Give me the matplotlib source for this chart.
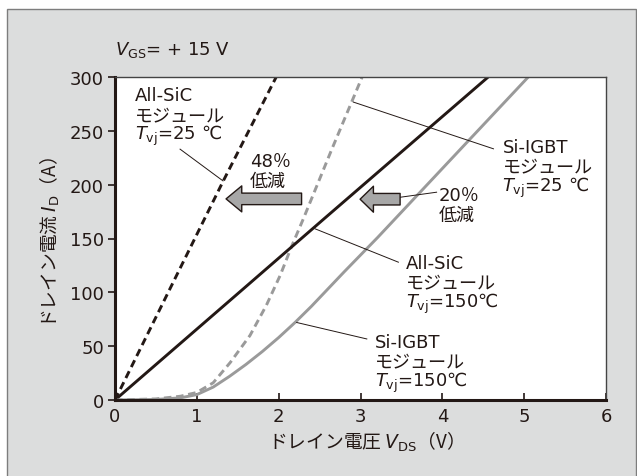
import matplotlib
matplotlib.use('Agg')
import matplotlib.pyplot as plt
from matplotlib.patches import Rectangle

plt.rcParams['font.family'] = ['DejaVu Sans', 'Noto Sans CJK JP']
plt.rcParams['mathtext.fontset'] = 'custom'
plt.rcParams['mathtext.it'] = 'DejaVu Sans:italic'
plt.rcParams['mathtext.rm'] = 'DejaVu Sans'

# drain current I_D (A) vs drain voltage V_DS (V)
sic25_v = [0.0, 1.32, 1.97]
sic25_i = [0.0, 203, 300]
sic150_v = [0.0, 0.79, 1.61, 2.55, 4.56]
sic150_i = [0.0, 52, 106, 168, 300]
si25_v = [0.0, 0.5, 0.8, 1.0, 1.2, 1.41, 1.65, 1.85, 2.02, 2.16, 2.30, 2.65, 3.02]
si25_i = [0.0, 1, 3.5, 7, 16, 35, 60, 88, 116, 143, 168, 233, 300]
si150_v = [0.0, 0.5, 0.8, 1.0, 1.2, 1.4, 1.6, 1.8, 2.0, 2.2, 2.4, 2.6, 2.8, 3.21, 4.0, 5.05]
si150_i = [0.0, 0.5, 2, 5, 12, 22, 33, 45, 58, 72, 87, 103, 119, 151, 215, 300]

x_ticks = [0, 1, 2, 3, 4, 5, 6]
y_ticks = [0, 50, 100, 150, 200, 250, 300]

black = '#231815'
gray = '#9a9a9a'
bg = '#dcdddd'
jp = ['Noto Sans CJK JP']

fig = plt.figure(figsize=(6.37, 4.77), dpi=100)
fig.patches.append(Rectangle((7 / 637, -0.02), 629 / 637, 1.02 - 10 / 477,
                             transform=fig.transFigure, facecolor=bg,
                             edgecolor='#7d7d7d', lw=1.0, zorder=-5))

ax = fig.add_axes([115 / 637, 76 / 477, 491 / 637, 323 / 477])
ax.set_facecolor('white')

ax.plot(sic25_v, sic25_i, color=black, lw=2.1, dashes=(2.6, 1.6))
ax.plot(si25_v, si25_i, color=gray, lw=2.1, dashes=(2.6, 1.6))
ax.plot(sic150_v, sic150_i, color=black, lw=2.1)
ax.plot(si150_v, si150_i, color=gray, lw=2.1)

ax.set_xlim(0, 6)
ax.set_ylim(0, 300)
ax.set_xticks(x_ticks)
ax.set_yticks(y_ticks)
ax.tick_params(axis='x', direction='in', length=5, width=1.2, colors=black,
               labelsize=13, pad=5)
ax.tick_params(axis='y', direction='out', length=5, width=1.2, colors=black,
               labelsize=13, pad=3)
for s in ['left', 'bottom']:
    ax.spines[s].set_linewidth(2.2)
    ax.spines[s].set_color(black)
for s in ['top', 'right']:
    ax.spines[s].set_linewidth(1.0)
    ax.spines[s].set_color('#444444')

fig.text(361 / 637, 1 - 442 / 477, 'ドレイン電圧 $V_{\\mathrm{DS}}$（V）', family=jp,
         ha='center', va='center', fontsize=13.5, color=black)
fig.text(50 / 637, 1 - 243 / 477, 'ドレイン電流 $I_{\\mathrm{D}}$（A）', family=jp,
         ha='center', va='center', rotation=90, fontsize=13.5, color=black)

ax.text(0.0, 321.6, '$V_{\\mathrm{GS}}$= + 15 V', fontsize=13, color=black,
        ha='left', va='baseline')


def label(v, i0, lines, step=18.1):
    for k, s in enumerate(lines):
        ax.text(v, i0 - k * step, s, fontsize=13, color=black,
                ha='left', va='baseline')


def leader(p0, p1):
    ax.plot([p0[0], p1[0]], [p0[1], p1[1]], color=black, lw=0.7)


def arrow(tail, head, hl):
    ax.annotate('', xy=head, xytext=tail,
                arrowprops=dict(arrowstyle=f'simple,head_length={hl},head_width=18.7,tail_width=8.3',
                                mutation_scale=1, fc='#a7a7a7', ec=black, lw=1.0,
                                shrinkA=0, shrinkB=0))


label(0.245, 278.2, ['All-SiC', 'モジュール', '$T_{\\mathrm{vj}}$=25 ℃'])
leader((0.795, 233), (1.32, 203.5))
label(1.65, 217.1, ['48％', '低減'], step=18.6)
arrow((2.28, 186.8), (1.357, 186.8), 11.3)

label(4.735, 230.2, ['Si-IGBT', 'モジュール', '$T_{\\mathrm{vj}}$=25 ℃'])
leader((2.913, 276.7), (4.625, 233.3))
label(3.95, 185.9, ['20％', '低減'], step=18.6)
arrow((3.484, 186.5), (2.995, 186.5), 9.6)
leader((3.484, 188.3), (3.93, 193))

label(3.557, 122.4, ['All-SiC', 'モジュール', '$T_{\\mathrm{vj}}$=150℃'])
leader((2.445, 159), (3.463, 128))

label(3.178, 49.0, ['Si-IGBT', 'モジュール', '$T_{\\mathrm{vj}}$=150℃'])
leader((2.22, 72), (3.077, 56.7))

fig.savefig('out.png', dpi=100)
